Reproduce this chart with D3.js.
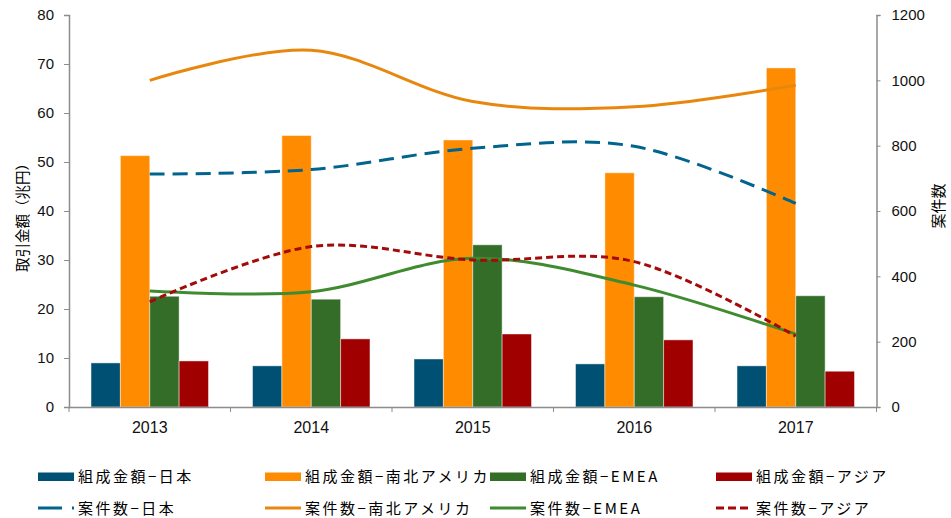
<!DOCTYPE html>
<html>
<head>
<meta charset="utf-8">
<script src="https://cdn.jsdelivr.net/npm/d3@7"></script>
<style>
  html, body { margin: 0; padding: 0; background: #fff; }
  svg { display: block; }
  text { font-family: "Liberation Sans", Arial, "Noto Sans CJK JP", sans-serif; }
  .jp { font-family: "Noto Sans CJK JP", sans-serif; }
</style>
</head>
<body>
<div id="chart"></div>
<script>
const years = ["2013", "2014", "2015", "2016", "2017"];
const barSeriesNames = ["組成金額−日本", "組成金額−南北アメリカ", "組成金額−EMEA", "組成金額−アジア"];
const lineSeriesNames = ["案件数−日本", "案件数−南北アメリカ", "案件数−EMEA", "案件数−アジア"];
const amountJapan = [9.0, 8.4, 9.8, 8.8, 8.4];
const amountAmericas = [51.3, 55.4, 54.5, 47.8, 69.2];
const amountEMEA = [22.6, 22.0, 33.1, 22.5, 22.7];
const amountAsia = [9.4, 13.9, 14.9, 13.7, 7.3];
const countJapan = [713, 727, 792, 798, 623];
const countAmericas = [1000, 1092, 935, 919, 985];
const countEMEA = [355, 353, 455, 373, 223];
const countAsia = [322, 491, 450, 445, 217];
const leftTicks = [0, 10, 20, 30, 40, 50, 60, 70, 80];
const rightTicks = [0, 200, 400, 600, 800, 1000, 1200];
const leftTitle = "取引金額（兆円）";
const rightTitle = "案件数";

const barColors = ["#005073", "#ff8c00", "#336d27", "#a00000"];
const lineColors = ["#00648f", "#e8870e", "#3f8b30", "#a50a0a"];
const lineDash = ["15,8", null, null, "7,4"];

const W = 951, H = 518;
const m = { left: 69, right: 74.5, top: 15, bottom: 111 };
const iw = W - m.left - m.right, ih = H - m.top - m.bottom;

const svg = d3.select("#chart").append("svg").attr("width", W).attr("height", H);
const g = svg.append("g").attr("transform", `translate(${m.left},${m.top})`);

const x = d3.scaleBand().domain(years).range([0, iw]).paddingInner(0).paddingOuter(0);
const bw = x.bandwidth() / 5.5;
const yL = d3.scaleLinear().domain([0, 80]).range([ih, 0]);
const yR = d3.scaleLinear().domain([0, 1200]).range([ih, 0]);

const barData = [amountJapan, amountAmericas, amountEMEA, amountAsia];
const lineData = [countJapan, countAmericas, countEMEA, countAsia];

// bars
barData.forEach((vals, si) => {
  g.append("g").selectAll("rect").data(vals).join("rect")
    .attr("x", (d, i) => x(years[i]) + x.bandwidth() / 2 - 2 * bw + si * bw)
    .attr("y", d => yL(d))
    .attr("width", bw)
    .attr("height", d => yL(0) - yL(d))
    .attr("fill", barColors[si])
    .attr("stroke", "rgba(255,255,255,0.45)")
    .attr("stroke-width", 1);
});

// lines
const line = d3.line()
  .x((d, i) => x(years[i]) + x.bandwidth() / 2)
  .y(d => yR(d))
  .curve(d3.curveCardinal.tension(0));
lineData.forEach((vals, si) => {
  const p = g.append("path").datum(vals)
    .attr("d", line)
    .attr("fill", "none")
    .attr("stroke", lineColors[si])
    .attr("stroke-width", 3);
  if (lineDash[si]) p.attr("stroke-dasharray", lineDash[si]);
});

// axes
const axisColor = "#8c8c8c";
const gL = g.append("g").call(d3.axisLeft(yL).tickValues(leftTicks).tickSize(5).tickPadding(10));
const gR = g.append("g").attr("transform", `translate(${iw},0)`)
  .call(d3.axisRight(yR).tickValues(rightTicks).tickFormat(d3.format("d")).tickSize(4).tickPadding(11));
const gX = g.append("g").attr("transform", `translate(0,${ih})`)
  .call(d3.axisBottom(x).tickSize(0).tickPadding(15));
// x tick marks at band boundaries
gX.selectAll(".bound").data(d3.range(years.length + 1)).join("line")
  .attr("class", "bound")
  .attr("x1", i => i * x.step()).attr("x2", i => i * x.step())
  .attr("y1", 0).attr("y2", 5)
  .attr("stroke", axisColor);

[gL, gR, gX].forEach(a => {
  a.selectAll("path.domain").attr("stroke", axisColor).attr("stroke-width", 1.5);
  a.selectAll(".tick line").attr("stroke", axisColor);
  a.selectAll("text").attr("font-size", 15).attr("fill", "#111")
    .attr("font-family", "'Liberation Sans', Arial, sans-serif");
});
gX.selectAll("text").attr("font-size", 16);

// axis titles
svg.append("text").attr("class", "jp")
  .attr("transform", `translate(28,${214}) rotate(-90)`)
  .attr("text-anchor", "middle").attr("font-size", 14.5).attr("fill", "#000")
  .text(leftTitle);
svg.append("text").attr("class", "jp")
  .attr("transform", `translate(944,${206}) rotate(-90)`)
  .attr("text-anchor", "middle").attr("font-size", 15).attr("fill", "#000")
  .text(rightTitle);

// legend
const legX = [38, 265, 490, 716];
const leg = svg.append("g");
barSeriesNames.forEach((name, i) => {
  leg.append("rect").attr("x", legX[i]).attr("y", 472.5).attr("width", 36).attr("height", 8.5)
    .attr("fill", barColors[i]);
  leg.append("text").attr("class", "jp").attr("x", legX[i] + 40).attr("y", 482)
    .attr("font-size", 15).attr("letter-spacing", 2.5).attr("fill", "#000").text(name);
});
lineSeriesNames.forEach((name, i) => {
  const ln = leg.append("line").attr("x1", legX[i]).attr("x2", legX[i] + 36)
    .attr("y1", 508).attr("y2", 508)
    .attr("stroke", lineColors[i]).attr("stroke-width", 3);
  if (i === 0) ln.attr("stroke-dasharray", "24,10");
  if (i === 3) ln.attr("stroke-dasharray", "8,4");
  leg.append("text").attr("class", "jp").attr("x", legX[i] + 40).attr("y", 514)
    .attr("font-size", 15).attr("letter-spacing", 2.5).attr("fill", "#000").text(name);
});
</script>
</body>
</html>
